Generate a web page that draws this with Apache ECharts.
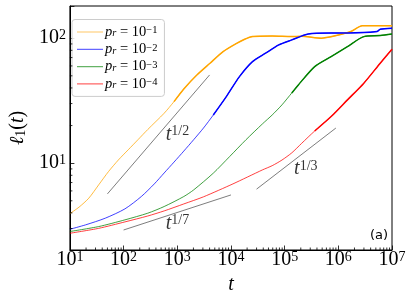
<!DOCTYPE html>
<html><head><meta charset="utf-8">
<script src="https://cdn.jsdelivr.net/npm/echarts@6/dist/echarts.min.js"></script>
<style>html,body{margin:0;padding:0;background:#fff}#c{width:416px;height:300px}</style>
</head><body><div id="c"></div>
<script>
// ---- axis ranges ----
const T_MIN = 10, T_MAX = 1e7;
const Y_MIN = 2.02, Y_MAX = 181;
// ---- minor tick positions (mantissa x decade) ----
const minorMantissas = [2, 3, 4, 5, 6, 7, 8, 9];
const xDecades = [10, 100, 1000, 1e4, 1e5, 1e6];
const yDecades = [1, 10];
// ---- legend ----
const prExponents = ['\u22121', '\u22122', '\u22123', '\u22124'];
const seriesNames = prExponents.map(e => 'pr=10' + e);
const colors = ['#ffa500', '#0000ff', '#008000', '#ff0000'];
// ---- data: [t, l1(t)] ----
const orangeData = [[10,3.95],[14.8,4.45],[22.5,5.25],[34.3,6.7],[52.4,8.57],[79.8,10.6],[122,12.8],[185,15.4],[282,18.6],[570,25.1],[869,31.1],[1324,39.3],[2318,50.8],[4074,63.1],[7145,78.1],[12500,90.5],[18000,98],[25200,103],[58600,104],[136000,103],[207000,103.5],[482000,100],[834000,104],[1.71e6,113],[2.79e6,126],[1e7,126]];
const blueData = [[10,2.96],[19.6,3.21],[45.6,3.63],[106,4.31],[214,5.41],[374,6.83],[570,8.35],[869,10.2],[1324,12.5],[2018,15.4],[3076,19.1],[4690,24.3],[8200,34.1],[14400,49.3],[25200,65],[44200,75.9],[77800,88.4],[136000,96.9],[275000,108],[735000,110],[1.48e6,110],[5.25e6,113],[6.03e6,118],[1e7,120]];
const greenData = [[10,2.84],[34.3,3.11],[106,3.52],[282,3.98],[570,4.5],[1324,5.41],[2018,6.11],[4690,8.32],[9460,11.3],[19050,15.4],[38500,20.6],[58600,24.3],[89300,29.3],[136000,36.5],[180000,42.3],[363000,59.3],[735000,71.3],[1.48e6,85.7],[2.99e6,103],[6.03e6,105],[1e7,108]];
const redData = [[10,2.75],[34.3,3.01],[106,3.39],[282,3.78],[570,4.15],[1324,4.72],[3076,5.38],[10900,6.83],[38500,8.83],[58600,9.55],[89300,10.6],[136000,12.1],[207000,14.4],[363000,18.1],[735000,23.6],[1.48e6,32.1],[2.99e6,43.7],[6.03e6,63.1],[1e7,81.7]];
const curves = [orangeData, blueData, greenData, redData];
const boldFrom = [869, 4690, 136000, 363000];
// ---- guide lines ----
const guideHalf = [[50,5.68],[4000,50.8]];
const guideSeventh = [[100,2.92],[1e4,5.57]];
const guideThird = [[3e4,6.2],[9e5,19.1]];
const guideLabels = [
  {pos:[610,16.9], text:'1/2'},
  {pos:[610,3.3], text:'1/7'},
  {pos:[150000,9.0], text:'1/3'}
];

const SERIF = "'Liberation Serif', 'DejaVu Serif', serif";
const xMinor = [], yMinor = [];
xDecades.forEach(d => minorMantissas.forEach(m => xMinor.push([m*d, Y_MIN])));
yDecades.forEach(d => minorMantissas.forEach(m => { const v=m*d; if (v>Y_MIN && v<Y_MAX) yMinor.push([T_MIN, v]); }));

const powRich = {
  b: {fontFamily: SERIF, fontSize: 20, lineHeight: 20, color: '#000'},
  s: {fontFamily: SERIF, fontSize: 14, lineHeight: 11, verticalAlign: 'top', color: '#000'}
};
function powLabel(v) {
  const e = Math.log10(v), r = Math.round(e);
  if (Math.abs(e - r) > 1e-6) return '';
  return '{b|10}{s|' + r + '}';
}

const series = [];
curves.forEach((d, i) => {
  series.push({type:'line', name: seriesNames[i], data: d, symbol:'none', smooth:0.25,
    lineStyle:{color: colors[i], width:1, opacity:0.75}, itemStyle:{color: colors[i]}, z: 3});
  series.push({type:'line', data: d.filter(p => p[0] >= boldFrom[i]), symbol:'none', smooth:0.25,
    lineStyle:{color: colors[i], width:1.5, opacity:1}, z: 4});
});
[guideHalf, guideSeventh, guideThird].forEach(g => {
  series.push({type:'line', data: g, symbol:'none', lineStyle:{color:'#333', width:0.8, opacity:0.8}, z: 2});
});
guideLabels.forEach(g => {
  series.push({type:'scatter', data:[g.pos], symbolSize:0, z:5,
    label:{show:true, position:'right', distance:0, formatter:'{it|t}{sp|' + g.text + '}',
      rich:{it:{fontFamily:SERIF, fontStyle:'italic', fontSize:20, lineHeight:20, color:'#000'},
            sp:{fontFamily:SERIF, fontSize:14, lineHeight:11, verticalAlign:'top', color:'#000'}}}});
});
series.push({type:'custom', data: xMinor, clip:false, z:6,
  renderItem: (params, api) => {
    const p = api.coord([api.value(0), api.value(1)]);
    return {type:'line', shape:{x1:p[0], y1:p[1], x2:p[0], y2:p[1]-2.5}, style:{stroke:'#000', lineWidth:0.8}};
  }});
series.push({type:'custom', data: yMinor, clip:false, z:6,
  renderItem: (params, api) => {
    const p = api.coord([api.value(0), api.value(1)]);
    return {type:'line', shape:{x1:p[0], y1:p[1], x2:p[0]+2.5, y2:p[1]}, style:{stroke:'#000', lineWidth:0.8}};
  }});

const chart = echarts.init(document.getElementById('c'));
chart.setOption({
  animation: false,
  backgroundColor: '#fff',
  grid: {left:64, right:24, top:6, bottom:50, show:true, borderColor:'#000', borderWidth:1},
  title: {text:'(a)', right:28, top:229, padding:0,
    textStyle:{fontFamily:'DejaVu Sans', fontSize:13, fontWeight:'normal', color:'#000'}},
  legend: {
    orient:'vertical', left:72, top:19.5, data: seriesNames,
    icon:'path://M0,0h0.01v0.01h-0.01zM0,6.4h26v1.2h-26zM25.99,13.99h0.01v0.01h-0.01z',
    itemWidth:26, itemHeight:14, itemGap:2.3, padding:[5,7,5,5],
    backgroundColor:'rgba(255,255,255,0.85)', borderColor:'#cccccc', borderWidth:1, borderRadius:3,
    itemStyle:{opacity:0.6},
    formatter: n => '{i|p}{sb|r}{n| = 10}{sp|' + n.slice(5) + '}',
    textStyle:{color:'#000', fontFamily:SERIF, fontSize:14.5, padding:[0,0,0,-3],
      rich:{
        i:{fontFamily:SERIF, fontStyle:'italic', fontSize:14.5, lineHeight:14, color:'#000'},
        n:{fontFamily:SERIF, fontSize:14.5, lineHeight:14, color:'#000'},
        sb:{fontFamily:SERIF, fontStyle:'italic', fontSize:10.5, lineHeight:9, verticalAlign:'bottom', color:'#000'},
        sp:{fontFamily:SERIF, fontSize:10.5, lineHeight:9, verticalAlign:'top', color:'#000'}
      }}
  },
  xAxis: {
    type:'log', logBase:10, min:T_MIN, max:T_MAX,
    axisLine:{show:true, lineStyle:{color:'#000', width:1}},
    axisTick:{show:true, inside:true, length:4.5, lineStyle:{color:'#000', width:0.8}},
    axisLabel:{margin:0, formatter: powLabel, rich: powRich, fontFamily:SERIF, color:'#000'},
    splitLine:{show:false},
    name:'t', nameLocation:'middle', nameGap:10,
    nameTextStyle:{fontFamily:SERIF, fontStyle:'italic', fontSize:20, color:'#000'}
  },
  yAxis: {
    type:'log', logBase:10, min:Y_MIN, max:Y_MAX,
    axisLine:{show:true, lineStyle:{color:'#000', width:1}},
    axisTick:{show:true, inside:true, length:4.5, lineStyle:{color:'#000', width:0.8}},
    axisLabel:{margin:4, formatter: powLabel, rich: powRich, fontFamily:SERIF, color:'#000'},
    splitLine:{show:false},
    name:'{l|\u2113}{sb|1}{p|(}{t|t}{p|)}', nameLocation:'middle', nameRotate:90, nameGap:40,
    nameTextStyle:{color:'#000', rich:{
      l:{fontFamily:SERIF, fontStyle:'italic', fontSize:20, lineHeight:20, color:'#000'},
      sb:{fontFamily:SERIF, fontSize:14, lineHeight:11, verticalAlign:'bottom', color:'#000'},
      p:{fontFamily:SERIF, fontSize:20, lineHeight:20, color:'#000'},
      t:{fontFamily:SERIF, fontStyle:'italic', fontSize:20, lineHeight:20, color:'#000'}
    }}
  },
  series: series
});
</script></body></html>
